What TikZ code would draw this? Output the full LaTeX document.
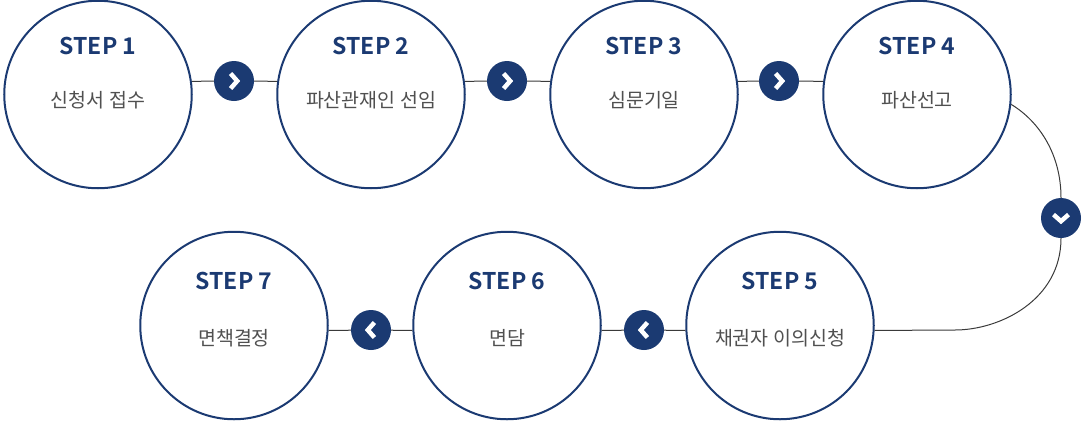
\documentclass[tikz,border=0pt]{standalone}
\usepackage{fontspec}
\setmainfont{Noto Sans CJK KR}
\newfontfamily\stepfont{Noto Sans CJK KR}[BoldFont=* Bold]
\definecolor{navy}{HTML}{1B3A72}
\definecolor{txtgray}{HTML}{505050}
\definecolor{linegray}{HTML}{3A3A3A}
\begin{document}
\begin{tikzpicture}[x=1pt,y=-1pt,
  stepcircle/.style={circle,draw=navy,line width=2pt,minimum size=187.5pt,inner sep=0pt,fill=white},
  badge/.style={circle,fill=navy,minimum size=40pt,inner sep=0pt},
  steplabel/.style={inner sep=0pt,text=navy,font=\stepfont\bfseries\fontsize{23}{23}\selectfont},
  desclabel/.style={inner sep=0pt,text=txtgray,font=\fontsize{19.5}{20}\selectfont},
  conn/.style={draw=linegray,line width=1pt},
  chevline/.style={draw=white,line width=4.5pt,line cap=butt,line join=miter},
  pics/chevron/.style={code={\draw[chevline] (-3.4,-7.5) -- (3.2,0) -- (-3.4,7.5);}}
]
\useasboundingbox (0,0) rectangle (1082,421);
% circles
\node[stepcircle] (s1) at (98,94.5) {};
\node[stepcircle] (s2) at (371,94.5) {};
\node[stepcircle] (s3) at (644,94.5) {};
\node[stepcircle] (s4) at (917,94.5) {};
\node[stepcircle] (s5) at (780,325.5) {};
\node[stepcircle] (s6) at (507,325.5) {};
\node[stepcircle] (s7) at (234,325.5) {};
% badges
\node[badge] (ba) at (234,81) {};
\node[badge] (bb) at (507,81) {};
\node[badge] (bc) at (779,81) {};
\node[badge] (bd) at (1061,218) {};
\node[badge] (be) at (644,330) {};
\node[badge] (bf) at (371,330) {};
\coordinate (cq) at (955,330);
% connectors
\draw[conn] (s1.8) -- (ba);
\draw[conn] (ba) -- (s2.172);
\draw[conn] (s2.8) -- (bb);
\draw[conn] (bb) -- (s3.172);
\draw[conn] (s3.8) -- (bc);
\draw[conn] (bc) -- (s4.172);
\draw[conn] (s4.-6) .. controls (1040,122) and (1061,155) .. (bd.north);
\draw[conn] (bd.south) .. controls (1061,300) and (1000,330) .. (cq) -- (s5.-3);
\draw[conn] (s5.183) -- (be);
\draw[conn] (be) -- (s6.-3);
\draw[conn] (s6.183) -- (bf);
\draw[conn] (bf) -- (s7.-3);
% chevrons
\pic at (ba) {chevron};
\pic at (bb) {chevron};
\pic at (bc) {chevron};
\pic[rotate=-90] at (bd) {chevron};
\pic[rotate=180] at (be) {chevron};
\pic[rotate=180] at (bf) {chevron};
% labels
\node[steplabel] (t1) at (98,46) {STEP 1};
\node[desclabel] (d1) at (98,100) {신청서 접수};
\node[steplabel] (t2) at (371,46) {STEP 2};
\node[desclabel] (d2) at (371,100) {파산관재인 선임};
\node[steplabel] (t3) at (644,46) {STEP 3};
\node[desclabel] (d3) at (644,100) {심문기일};
\node[steplabel] (t4) at (917,46) {STEP 4};
\node[desclabel] (d4) at (917,100) {파산선고};
\node[steplabel] (t5) at (780,281) {STEP 5};
\node[desclabel] (d5) at (780,338.5) {채권자 이의신청};
\node[steplabel] (t6) at (507,281) {STEP 6};
\node[desclabel] (d6) at (507,338.5) {면담};
\node[steplabel] (t7) at (234,281) {STEP 7};
\node[desclabel] (d7) at (234,338.5) {면책결정};
\end{tikzpicture}
\end{document}
